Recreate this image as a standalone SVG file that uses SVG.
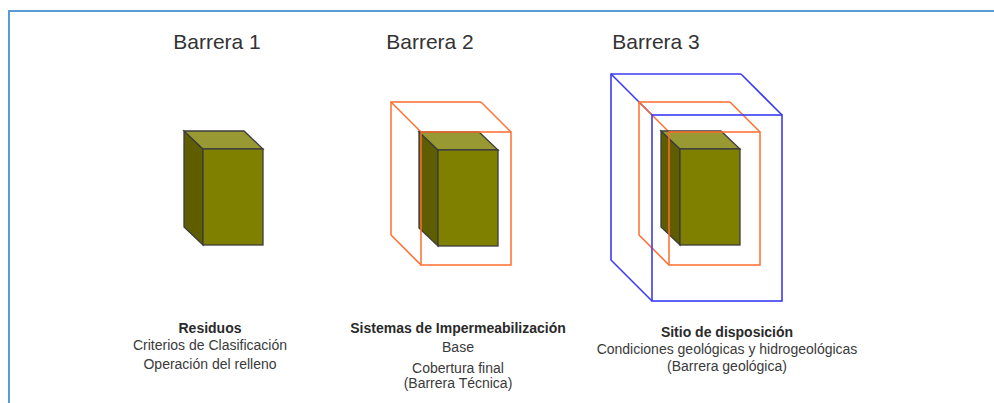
<svg xmlns="http://www.w3.org/2000/svg" width="994" height="403" viewBox="0 0 994 403">
<defs>
<style>
.title{font-family:"Liberation Sans",Arial,sans-serif;font-size:21px;fill:#333;text-anchor:middle}
.lbl{font-family:"Liberation Sans",Arial,sans-serif;font-size:14px;fill:#3a3a3a;text-anchor:middle}
.b{font-weight:bold;fill:#2a2a2a}
.front{fill:#808000;stroke:#3c3c3c;stroke-width:1.3}
.top{fill:#999933;stroke:#3c3c3c;stroke-width:1.3}
.side{fill:#5e5e00;stroke:#3c3c3c;stroke-width:1.3}
.or{fill:none;stroke:#ff6d2e;stroke-width:1.5}
.bl{fill:none;stroke:#3b3bf5;stroke-width:1.6}
</style>
<g id="cube">
<polygon class="side" points="0,0 19,18 19,114 0,96"/>
<polygon class="top" points="0,0 60,0 79,18 19,18"/>
<rect class="front" x="19" y="18" width="60" height="96"/>
</g>
</defs>
<rect width="994" height="403" fill="#fff"/>
<g id="frame" fill="none" stroke="#5b9bd5" stroke-width="2">
<polyline points="9,403 9,11 994,11"/>
</g>
<g id="barrera1">
<text class="title" x="217" y="49">Barrera 1</text>
<use href="#cube" x="184" y="131"/>
<text class="lbl b" x="210" y="333">Residuos</text>
<text class="lbl" x="210" y="350">Criterios de Clasificación</text>
<text class="lbl" x="210" y="369">Operación del relleno</text>
</g>
<g id="barrera2">
<text class="title" x="430" y="49">Barrera 2</text>
<polyline class="or" points="481,102 391,102 391,235 421,265"/>
<line class="or" x1="391" y1="102" x2="421" y2="132"/>
<line class="or" x1="481" y1="102" x2="511" y2="132"/>
<use href="#cube" x="419" y="132"/>
<rect class="or" x="421" y="132" width="90" height="133"/>
<text class="lbl b" x="458" y="333">Sistemas de Impermeabilización</text>
<text class="lbl" x="458" y="352">Base</text>
<text class="lbl" x="458" y="373">Cobertura final</text>
<text class="lbl" x="458" y="388">(Barrera Técnica)</text>
</g>
<g id="barrera3">
<text class="title" x="656" y="49">Barrera 3</text>
<polyline class="bl" points="741,74 611,74 611,260 652,301"/>
<line class="bl" x1="611" y1="74" x2="652" y2="115"/>
<line class="bl" x1="741" y1="74" x2="782" y2="115"/>
<polyline class="or" points="730,102 639,102 639,235 669,265"/>
<line class="or" x1="639" y1="102" x2="669" y2="132"/>
<line class="or" x1="730" y1="102" x2="760" y2="132"/>
<use href="#cube" x="661" y="131"/>
<rect class="or" x="669" y="132" width="91" height="133"/>
<rect class="bl" x="652" y="115" width="130" height="186"/>
<text class="lbl b" x="727" y="337">Sitio de disposición</text>
<text class="lbl" x="727" y="354">Condiciones geológicas y hidrogeológicas</text>
<text class="lbl" x="727" y="371">(Barrera geológica)</text>
</g>
</svg>
